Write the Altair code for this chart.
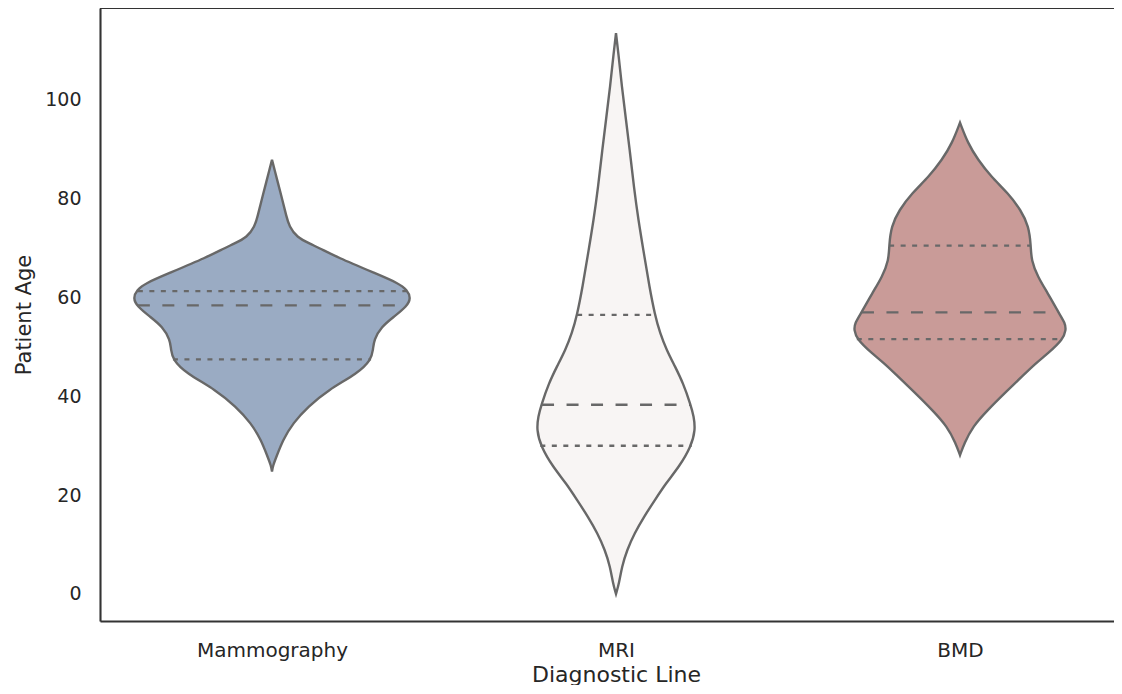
import altair as alt
import pandas as pd

# ---- categories & styling -------------------------------------------------
categories = ["Mammography", "MRI", "BMD"]
fill_colors = ["#9aabc3", "#f8f5f4", "#c99b98"]

# ---- violin outlines (age, half-width in category units) -------------------
mammo_age = [24.8, 26.0, 27.8, 31.2, 34.6, 37.9, 41.3, 44.7, 47.4, 49.5, 51.4,
             54.1, 56.1, 58.2, 59.9, 61.5, 62.9, 64.9, 68.3, 69.6, 70.9, 72.2,
             74.4, 76.4, 79.8, 83.8, 85.7, 87.9]
mammo_half = [0.0, 0.003, 0.013, 0.032, 0.061, 0.105, 0.163, 0.25, 0.288, 0.294, 0.296,
              0.318, 0.354, 0.392, 0.404, 0.393, 0.368, 0.30, 0.185, 0.15, 0.11, 0.072,
              0.05, 0.042, 0.03, 0.015, 0.008, 0.0]

mri_age = [0.0, 2.2, 5.5, 8.9, 12.3, 15.6, 19.0, 22.4, 25.8, 29.8, 33.2, 36.0,
           38.3, 42.7, 46.0, 49.4, 52.8, 56.5, 62.2, 69.0, 75.7, 82.4, 89.2,
           96.0, 102.7, 109.4, 113.5]
mri_half = [0.0, 0.009, 0.017, 0.032, 0.054, 0.081, 0.113, 0.145, 0.184, 0.218, 0.231, 0.226,
            0.217, 0.195, 0.172, 0.147, 0.128, 0.113, 0.097, 0.081, 0.065, 0.052, 0.041,
            0.029, 0.017, 0.007, 0.0]

bmd_age = [28.1, 30.5, 33.9, 37.2, 40.6, 44.0, 46.7, 48.7, 51.6, 53.4, 54.8, 57.0,
           60.9, 64.2, 67.6, 70.5, 74.4, 77.7, 81.1, 84.5, 87.9, 91.2, 95.4]
bmd_half = [0.0, 0.0125, 0.037, 0.08, 0.129, 0.18, 0.22, 0.256, 0.30, 0.308, 0.306, 0.286,
            0.255, 0.226, 0.207, 0.206, 0.2, 0.177, 0.14, 0.09, 0.052, 0.023, 0.0]

# ---- quartile lines (Q1, median, Q3) -----------------------------------------
mammo_quart = [47.5, 58.4, 61.3]
mammo_quart_half = [0.288, 0.39, 0.39]
mri_quart = [30.0, 38.3, 56.5]
mri_quart_half = [0.22, 0.215, 0.113]
bmd_quart = [51.6, 57.0, 70.5]
bmd_quart_half = [0.30, 0.285, 0.206]
quart_kind = ["quartile", "median", "quartile"]

# ---- tables ---------------------------------------------------------------
profiles = [(mammo_age, mammo_half), (mri_age, mri_half), (bmd_age, bmd_half)]
quarts = [(mammo_quart, mammo_quart_half), (mri_quart, mri_quart_half),
          (bmd_quart, bmd_quart_half)]

violin_rows = []
for i, (ages, halves) in enumerate(profiles):
    for a, h in zip(ages, halves):
        violin_rows.append({"category": categories[i], "pos": i, "age": a, "half": h})
violin_df = pd.DataFrame(violin_rows)

quart_rows = []
for i, (qs, hs) in enumerate(quarts):
    for q, h, k in zip(qs, hs, quart_kind):
        quart_rows.append({"category": categories[i], "pos": i, "age": q, "half": h, "kind": k})
quart_df = pd.DataFrame(quart_rows)

# ---- scales / axes --------------------------------------------------------
W, H = 1014, 613
PX_PER_CAT = 344.0
FONT = "DejaVu Sans"
LINE = "#686868"
SPINE = "#333333"

x_scale = alt.Scale(domain=[-0.5, -0.5 + W / PX_PER_CAT], nice=False, zero=False)
y_scale = alt.Scale(domain=[-5.47, 118.6], nice=False, zero=False)

label_expr = "[" + ", ".join("'%s'" % c for c in categories) + "][datum.value]"

x_axis = alt.Axis(values=[0, 1, 2], labelExpr=label_expr, title="Diagnostic Line",
                  grid=False, ticks=False, tickSize=0, labelPadding=19, titlePadding=4,
                  titleX=1.5 * PX_PER_CAT, titleAlign="center",
                  labelFont=FONT, titleFont=FONT, labelFontSize=20, titleFontSize=22,
                  labelColor="#262626", titleColor="#262626", titleFontWeight="normal",
                  domainColor=SPINE, domainWidth=2.1)
y_axis = alt.Axis(values=[0, 20, 40, 60, 80, 100], title="Patient Age",
                  grid=False, ticks=False, tickSize=0, labelPadding=19, titlePadding=10,
                  labelFont=FONT, titleFont=FONT, labelFontSize=19, titleFontSize=21,
                  labelColor="#262626", titleColor="#262626", titleFontWeight="normal",
                  domainColor=SPINE, domainWidth=2.1)

violins = alt.Chart(violin_df).transform_calculate(
    lo="datum.pos - datum.half", hi="datum.pos + datum.half"
).mark_area(orient="horizontal", interpolate="basis", stroke=LINE,
            strokeWidth=2.4, fillOpacity=1).encode(
    y=alt.Y("age:Q", scale=y_scale, axis=y_axis),
    x=alt.X("lo:Q", scale=x_scale, axis=x_axis),
    x2="hi:Q",
    color=alt.Color("category:N", scale=alt.Scale(domain=categories, range=fill_colors),
                    legend=None),
)

medians = alt.Chart(quart_df).transform_filter("datum.kind == 'median'").transform_calculate(
    lo="datum.pos - datum.half", hi="datum.pos + datum.half"
).mark_rule(stroke=LINE, strokeWidth=2.3, strokeDash=[12, 12.5]).encode(
    y=alt.Y("age:Q", scale=y_scale), x=alt.X("lo:Q", scale=x_scale), x2="hi:Q")

quartiles = alt.Chart(quart_df).transform_filter("datum.kind == 'quartile'").transform_calculate(
    lo="datum.pos - datum.half", hi="datum.pos + datum.half"
).mark_rule(stroke=LINE, strokeWidth=2.3, strokeDash=[5, 6.5]).encode(
    y=alt.Y("age:Q", scale=y_scale), x=alt.X("lo:Q", scale=x_scale), x2="hi:Q")

top_spine = alt.Chart(violin_df).mark_rule(color=SPINE, strokeWidth=2.1).encode(
    x=alt.value(0), x2=alt.value(W), y=alt.value(0))

chart = alt.layer(violins, medians, quartiles, top_spine).properties(
    width=W, height=H,
    autosize=alt.AutoSizeParams(type="none"),
    padding={"left": 92, "top": 0, "right": 0, "bottom": 64},
).configure_view(strokeWidth=0).configure(background="white")

chart.save("out.html", embed_options={"renderer": "svg", "actions": False})
